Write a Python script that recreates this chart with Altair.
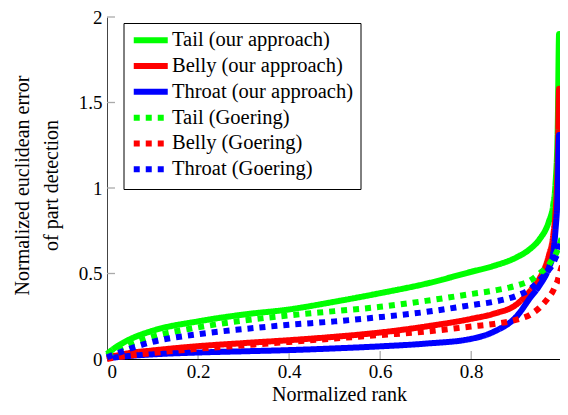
import altair as alt
import pandas as pd

# ---- data ----
rank = [0, 0.02, 0.05, 0.1, 0.2, 0.3, 0.4, 0.5, 0.6, 0.7, 0.8, 0.85, 0.9, 0.93,
        0.95, 0.97, 0.98, 0.985, 0.99, 0.993, 1.0]

tail_ours = [0.03, 0.07, 0.115, 0.165, 0.22, 0.26, 0.29, 0.335, 0.385, 0.44, 0.51,
             0.545, 0.595, 0.645, 0.70, 0.80, 0.90, 1.02, 1.35, 1.9, 1.9]
belly_ours = [0.01, 0.02, 0.035, 0.05, 0.075, 0.093, 0.11, 0.13, 0.155, 0.19, 0.235,
              0.265, 0.32, 0.40, 0.47, 0.60, 0.72, 0.85, 1.15, 1.58, 1.58]
throat_ours = [0.005, 0.01, 0.018, 0.027, 0.038, 0.045, 0.052, 0.062, 0.074, 0.09, 0.118,
               0.16, 0.25, 0.36, 0.43, 0.53, 0.62, 0.75, 0.98, 1.31, 1.31]
tail_goering = [0.02, 0.05, 0.085, 0.13, 0.185, 0.225, 0.255, 0.28, 0.305, 0.34, 0.38,
                0.40, 0.43, 0.46, 0.50, 0.55, 0.59, 0.61, 0.64, 0.66, 0.72]
belly_goering = [0.0, 0.01, 0.02, 0.035, 0.06, 0.08, 0.10, 0.12, 0.14, 0.16, 0.19,
                 0.205, 0.23, 0.26, 0.30, 0.36, 0.40, 0.43, 0.46, 0.49, 0.55]
throat_goering = [0.01, 0.03, 0.06, 0.10, 0.145, 0.175, 0.2, 0.22, 0.245, 0.275, 0.315,
                  0.335, 0.37, 0.41, 0.46, 0.52, 0.56, 0.59, 0.62, 0.65, 0.70]

series_names = ["Tail (our approach)", "Belly (our approach)", "Throat (our approach)",
                "Tail (Goering)", "Belly (Goering)", "Throat (Goering)"]
series_values = [tail_ours, belly_ours, throat_ours,
                 tail_goering, belly_goering, throat_goering]
series_colors = ["#00ff00", "#ff0000", "#0000ff", "#00ff00", "#ff0000", "#0000ff"]
series_dashes = [[1, 0], [1, 0], [1, 0], [6, 6], [6, 6], [6, 6]]

x_ticks = [0, 0.2, 0.4, 0.6, 0.8, 1]
y_ticks = [0, 0.5, 1, 1.5, 2]

rows = []
for k, (name, vals) in enumerate(zip(series_names, series_values)):
    for r, v in zip(rank, vals):
        rows.append({"rank": r, "err": v, "series": name, "k": k})
df = pd.DataFrame(rows)

FONT = "Liberation Serif"
W, H = 453, 342

xscale = alt.Scale(domain=[0, 0.995], nice=False, zero=False)
yscale = alt.Scale(domain=[0, 2], nice=False, zero=False)

x_axis = alt.Axis(values=x_ticks, title="Normalized rank", format="~g",
                  labelPadding=3, titleX=232, titleY=41,
                  titleBaseline="alphabetic", domainColor="black")
y_axis = alt.Axis(values=y_ticks, format="~g",
                  title=["Normalized euclidean error", "of part detection"],
                  labelPadding=5, titleX=-78.5, titleY=168,
                  titleBaseline="alphabetic", titleLineHeight=29,
                  domainColor="#444444")

legend = alt.Legend(
    title=None, orient="none", legendX=16.5, legendY=6,
    symbolType="M-1,0H3.857", symbolStrokeWidth=6, symbolSize=196,
    labelFont=FONT, labelFontSize=20.5, labelColor="black", labelOffset=21,
    rowPadding=0.8, padding=7, strokeColor="black", fillColor="white",
    cornerRadius=0, labelLimit=400,
)

lines = alt.Chart(df).mark_line(
    strokeWidth=6, interpolate="monotone", strokeCap="butt", strokeJoin="round"
).encode(
    x=alt.X("rank:Q", scale=xscale, axis=x_axis),
    y=alt.Y("err:Q", scale=yscale, axis=y_axis),
    color=alt.Color("series:N", scale=alt.Scale(domain=series_names, range=series_colors),
                    legend=legend),
    strokeDash=alt.StrokeDash("series:N",
                              scale=alt.Scale(domain=series_names, range=series_dashes),
                              legend=legend),
    detail="k:O",
)

xt = pd.DataFrame({"t": x_ticks})
yt = pd.DataFrame({"t": y_ticks})

xtick_layer = alt.Chart(xt).mark_rule(color="#aaaaaa", strokeWidth=1.3).encode(
    x=alt.X("t:Q", scale=xscale, axis=x_axis),
    y=alt.value(H - 8), y2=alt.value(H),
)
ytick_layer = alt.Chart(yt).mark_rule(color="#aaaaaa", strokeWidth=1.3).encode(
    y=alt.Y("t:Q", scale=yscale, axis=y_axis),
    x=alt.value(0), x2=alt.value(8),
)

chart = alt.layer(xtick_layer, ytick_layer, lines).properties(
    width=W, height=H,
    autosize=alt.AutoSizeParams(type="none"),
    padding={"left": 99, "top": 9, "right": 0, "bottom": 46},
).configure_view(stroke=None).configure_axis(
    grid=False, ticks=False, tickSize=0,
    labelFont=FONT, labelFontSize=19, labelColor="black",
    titleFont=FONT, titleFontSize=20, titleFontWeight="normal", titleColor="black",
    domainWidth=1,
)

chart.save("out.html", embed_options={"renderer": "svg", "actions": False})
